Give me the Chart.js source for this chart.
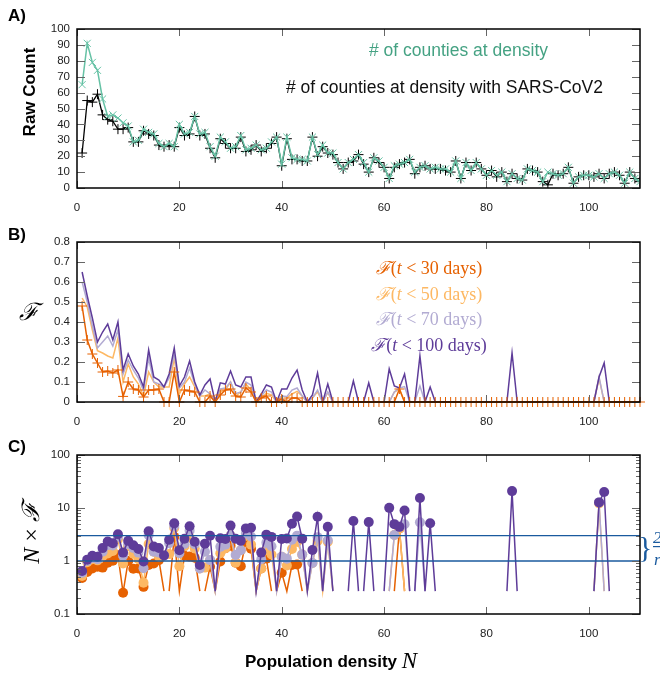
<!DOCTYPE html>
<html>
<head>
<meta charset="utf-8">
<script src="https://cdn.jsdelivr.net/npm/chart.js@4.4.1/dist/chart.umd.min.js"></script>
<style>
  body { margin: 0; background: #fff; width: 660px; height: 675px; position: relative; overflow: hidden; }
  canvas { position: absolute; left: 0; }
</style>
</head>
<body>
<canvas id="chartA" width="660" height="218" style="top:0px"></canvas>
<canvas id="chartB" width="660" height="214" style="top:218px"></canvas>
<canvas id="chartC" width="660" height="243" style="top:432px"></canvas>
<script>
// population density bins 1..110
const density = Array.from({ length: 110 }, (_, i) => i + 1);

// panel A: raw counts
const counties = [
  65, 91, 79, 74, 56, 45, 46, 44, 41, 39,
  29, 30, 37, 35, 34, 28, 26, 28, 26, 40,
  34, 35, 45, 34, 35, 26, 20, 32, 29, 25,
  26, 33, 24, 25, 27, 24, 25, 29, 32, 15,
  32, 19, 18, 18, 17, 32, 21, 27, 22, 22,
  16, 12, 16, 18, 21, 16, 10, 19, 17, 13,
  6, 14, 15, 16, 18, 10, 13, 14, 12, 13,
  12, 12, 10, 17, 6, 16, 11, 16, 12, 8,
  11, 8, 10, 4, 9, 6, 5, 12, 11, 10,
  4, 10, 9, 8, 9, 13, 3, 7, 8, 8,
  7, 9, 6, 9, 10, 8, 3, 10, 6, 4
];
const withCovid = [
  22, 55, 54, 59, 46, 43, 42, 37, 37, 38,
  29, 29, 36, 34, 33, 27, 26, 27, 26, 38,
  33, 34, 45, 33, 34, 25, 19, 31, 28, 25,
  25, 32, 23, 24, 27, 23, 25, 28, 32, 14,
  31, 18, 18, 17, 17, 32, 20, 26, 22, 21,
  16, 12, 16, 17, 21, 15, 10, 19, 16, 13,
  6, 13, 15, 16, 18, 9, 13, 14, 12, 12,
  12, 11, 10, 17, 6, 16, 11, 16, 12, 8,
  11, 7, 10, 4, 9, 6, 5, 12, 11, 10,
  4, 2, 9, 8, 9, 13, 3, 7, 8, 8,
  7, 9, 6, 9, 10, 8, 3, 10, 6, 4
];

// panel B: fraction F(t < T days)
const f30 = [
  .48, .31, .24, .195, .15, .155, .145, .16, .028, .10,
  .065, .06, .025, .06, .06, .065, 0, 0, .15, 0,
  .06, .055, .05, 0, 0, .03, 0, .035, .06, .065,
  .03, .025, .07, .05, 0, .02, .03, 0, 0, .015,
  0, .02, .02, 0, 0, 0, 0, 0, 0, 0,
  0, 0, 0, 0, 0, 0, 0, 0, 0, 0,
  0, 0, .065, 0, 0, 0, 0, 0, 0, 0,
  0, 0, 0, 0, 0, 0, 0, 0, 0, 0,
  0, 0, 0, 0, 0, 0, 0, 0, 0, 0,
  0, 0, 0, 0, 0, 0, 0, 0, 0, 0,
  0, 0, 0, 0, 0, 0, 0, 0, 0, 0
];
const f50 = [
  .52, .475, .36, .257, .245, .23, .22, .32, .10, .19,
  .125, .09, .03, .15, .10, .075, .075, .075, .22, .04,
  .09, .125, .075, .03, .03, .04, 0, .05, .06, .10,
  .03, .05, .09, .06, 0, .02, .043, .035, 0, .03,
  .02, .04, .053, .03, 0, .02, .051, 0, .047, 0,
  0, 0, 0, 0, 0, 0, 0, 0, 0, 0,
  0, .05, .065, 0, 0, 0, 0, 0, 0, 0,
  0, 0, 0, 0, 0, 0, 0, 0, 0, 0,
  0, 0, 0, 0, 0, 0, 0, 0, 0, 0,
  0, 0, 0, 0, 0, 0, 0, 0, 0, 0,
  0, .12, 0, 0, 0, 0, 0, 0, 0, 0
];
const f70 = [
  .60, .50, .38, .27, .30, .33, .28, .36, .14, .21,
  .16, .12, .056, .22, .10, .09, .075, .12, .24, .07,
  .10, .17, .09, .03, .06, .04, 0, .066, .07, .10,
  .042, .05, .10, .085, 0, .03, .06, .05, 0, .03,
  .027, .06, .07, .03, 0, .02, .06, 0, .05, 0,
  0, 0, 0, 0, 0, 0, 0, 0, 0, 0,
  0, .05, .07, .077, 0, 0, .08, 0, 0, 0,
  0, 0, 0, 0, 0, 0, 0, 0, 0, 0,
  0, 0, 0, 0, 0, 0, 0, 0, 0, 0,
  0, 0, 0, 0, 0, 0, 0, 0, 0, 0,
  0, .125, 0, 0, 0, 0, 0, 0, 0, 0
];
const f100 = [
  .65, .53, .42, .30, .35, .39, .31, .40, .16, .24,
  .18, .14, .075, .26, .125, .11, .075, .14, .27, .08,
  .125, .205, .10, .035, .085, .115, 0, .096, .09, .155,
  .085, .075, .125, .125, 0, .04, .085, .075, 0, .065,
  .065, .12, .16, .06, 0, .035, .145, 0, .09, 0,
  0, 0, 0, .105, 0, 0, .095, 0, 0, 0,
  .165, .08, .07, .14, 0, 0, .23, 0, .075, 0,
  0, 0, 0, 0, 0, 0, 0, 0, 0, 0,
  0, 0, 0, 0, .245, 0, 0, 0, 0, 0,
  0, 0, 0, 0, 0, 0, 0, 0, 0, 0,
  0, .125, .195, 0, 0, 0, 0, 0, 0, 0
];

// tick labels
const xTicks = [0, 20, 40, 60, 80, 100];
const yTicksA = [0, 10, 20, 30, 40, 50, 60, 70, 80, 90, 100];
const yTicksB = [0, 0.1, 0.2, 0.3, 0.4, 0.5, 0.6, 0.7, 0.8];
const yTicksC = [0.1, 1, 10, 100];
const yMinorC = [0.2, 0.3, 0.4, 0.5, 0.6, 0.7, 0.8, 0.9, 2, 3, 4, 5, 6, 7, 8, 9, 20, 30, 40, 50, 60, 70, 80, 90];
const refLines = [1, 3];

const SANS = '"Liberation Sans", Arial, sans-serif';
const SERIF = '"Liberation Serif", "DejaVu Serif", serif';
const TEAL = '#66c2a5', ORANGE = '#e66101', LORANGE = '#fdb863', LPURPLE = '#b2abd2', PURPLE = '#5e3c99', BLUE = '#1a5a9e';

const pts = arr => density.map((n, i) => ({ x: n, y: arr[i] }));

// N x F; empty bins sit at the floor without a dot
const floorC = 0.27;
const nf = f => density.map((n, i) => ({ x: n, y: f[i] > 0 ? n * f[i] : floorC }));

// inward ticks + box like gnuplot
const frame = {
  id: 'frame',
  afterDraw(chart, args, o) {
    const { ctx, chartArea: a, scales: { x, y } } = chart;
    ctx.save();
    ctx.strokeStyle = '#666';
    ctx.lineWidth = 1;
    ctx.beginPath();
    xTicks.forEach(v => {
      const px = Math.round(x.getPixelForValue(v)) + 0.5;
      ctx.moveTo(px, a.bottom); ctx.lineTo(px, a.bottom - 7);
      ctx.moveTo(px, a.top); ctx.lineTo(px, a.top + 7);
    });
    o.yMajor.forEach(v => {
      const py = Math.round(y.getPixelForValue(v)) + 0.5;
      ctx.moveTo(a.left, py); ctx.lineTo(a.left + 8, py);
      ctx.moveTo(a.right, py); ctx.lineTo(a.right - 8, py);
    });
    (o.yMinor || []).forEach(v => {
      const py = Math.round(y.getPixelForValue(v)) + 0.5;
      ctx.moveTo(a.left, py); ctx.lineTo(a.left + 4, py);
      ctx.moveTo(a.right, py); ctx.lineTo(a.right - 4, py);
    });
    ctx.stroke();
    ctx.strokeStyle = '#000';
    ctx.lineWidth = 1.5;
    ctx.strokeRect(a.left, a.top, a.width, a.height);
    ctx.restore();
  }
};

// horizontal reference lines in panel C
const hlines = {
  id: 'hlines',
  afterDatasetsDraw(chart, args, o) {
    if (!o.values) return;
    const { ctx, chartArea: a, scales: { y } } = chart;
    ctx.save();
    ctx.strokeStyle = BLUE;
    ctx.lineWidth = 1.3;
    o.values.forEach(v => {
      const py = y.getPixelForValue(v);
      ctx.beginPath(); ctx.moveTo(a.left, py); ctx.lineTo(a.right, py); ctx.stroke();
    });
    ctx.restore();
  }
};

// free text, runs of mixed fonts
const texts = {
  id: 'texts',
  afterDraw(chart, args, o) {
    const ctx = chart.ctx;
    (o.items || []).forEach(it => {
      ctx.save();
      ctx.translate(it.x, it.y);
      if (it.rot) ctx.rotate(it.rot);
      ctx.textBaseline = 'middle';
      ctx.textAlign = 'left';
      const runs = it.runs || [{ t: it.t, f: it.f }];
      let w = 0;
      runs.forEach(r => { ctx.font = r.f; w += ctx.measureText(r.t).width; });
      let x0 = it.align === 'right' ? -w : it.align === 'center' ? -w / 2 : 0;
      ctx.fillStyle = it.c || '#000';
      runs.forEach(r => { ctx.font = r.f; ctx.fillText(r.t, x0, r.dy || 0); x0 += ctx.measureText(r.t).width; });
      if (it.bar) { ctx.fillRect(it.bar[0], it.bar[1], it.bar[2], 1.2); }
      ctx.restore();
    });
  }
};

Chart.register(frame, hlines, texts);

function xScale(h) {
  return {
    type: 'linear', min: 0, max: 110,
    afterBuildTicks: s => { s.ticks = xTicks.map(v => ({ value: v })); },
    ticks: { padding: 13, color: '#222', font: { family: SANS, size: 11.5 }, maxRotation: 0, autoSkip: false },
    grid: { display: false, drawTicks: false },
    border: { display: false },
    afterFit: s => { s.height = h; }
  };
}
function yScale(opts, vals, fmt) {
  return Object.assign({
    afterBuildTicks: s => { s.ticks = vals.map(v => ({ value: v })); },
    ticks: { padding: 7, color: '#222', font: { family: SANS, size: 11.5 }, autoSkip: false, callback: fmt || (v => String(v)) },
    grid: { display: false, drawTicks: false },
    border: { display: false },
    afterFit: s => { s.width = 77; }
  }, opts);
}
const base = (top, extra) => Object.assign({
  responsive: false, animation: false,
  layout: { padding: { top: top, right: 20, left: 0, bottom: 0 } },
  elements: { line: { tension: 0 } }
}, extra);

// ---- A
new Chart(document.getElementById('chartA'), {
  type: 'line',
  data: {
    datasets: [
      { data: pts(counties), borderColor: TEAL, borderWidth: 1.5, pointStyle: 'crossRot', pointRadius: 5, pointBorderColor: TEAL, pointBorderWidth: 1, order: 0 },
      { data: pts(withCovid), borderColor: '#000', borderWidth: 1.3, pointStyle: 'cross', pointRadius: 5, pointBorderColor: '#000', pointBorderWidth: 1, order: 1 }
    ]
  },
  options: base(29, {
    scales: { x: xScale(30), y: yScale({ min: 0, max: 100 }, yTicksA) },
    plugins: {
      legend: { display: false }, tooltip: { enabled: false },
      frame: { yMajor: yTicksA },
      texts: { items: [
        { t: 'A)', f: 'bold 17px ' + SANS, x: 8, y: 16 },
        { t: 'Raw Count', f: 'bold 17px ' + SANS, x: 30, y: 92, rot: -Math.PI / 2, align: 'center' },
        { t: '# of counties at density', f: '17.5px ' + SANS, x: 548, y: 51, align: 'right', c: '#45a283' },
        { t: '# of counties at density with SARS-CoV2', f: '17.5px ' + SANS, x: 603, y: 88, align: 'right', c: '#111' }
      ] }
    }
  })
});

// ---- B
const legB = (label, c, y) => ({
  x: 429, y: y, align: 'center', c: c,
  runs: [
    { t: '\u2131', f: 'italic 18px ' + SERIF },
    { t: '(', f: '18px ' + SERIF },
    { t: 't', f: 'italic 18px ' + SERIF },
    { t: ' < ' + label + ' days)', f: '18px ' + SERIF }
  ]
});
new Chart(document.getElementById('chartB'), {
  type: 'line',
  data: {
    datasets: [
      { data: pts(f30), borderColor: ORANGE, borderWidth: 1.5, pointStyle: 'cross', pointRadius: 5, pointBorderColor: ORANGE, pointBorderWidth: 1, order: 0, clip: false },
      { data: pts(f50), borderColor: LORANGE, borderWidth: 1.5, pointRadius: 0, order: 3 },
      { data: pts(f70), borderColor: LPURPLE, borderWidth: 1.5, pointRadius: 0, order: 2 },
      { data: pts(f100), borderColor: PURPLE, borderWidth: 1.5, pointRadius: 0, order: 1 }
    ]
  },
  options: base(24, {
    scales: { x: xScale(30), y: yScale({ min: 0, max: 0.8 }, yTicksB) },
    plugins: {
      legend: { display: false }, tooltip: { enabled: false },
      frame: { yMajor: yTicksB },
      texts: { items: [
        { t: 'B)', f: 'bold 17px ' + SANS, x: 8, y: 17 },
        { t: '\u2131', f: 'italic 24px ' + SERIF, x: 29, y: 96, align: 'center' },
        legB('30', ORANGE, 51),
        legB('50', LORANGE, 77),
        legB('70', LPURPLE, 102),
        legB('100', PURPLE, 128)
      ] }
    }
  })
});

// ---- C
const cSet = (f, c, ord) => ({
  data: nf(f), borderColor: c, backgroundColor: c, borderWidth: 1.5,
  pointRadius: ctx => (f[ctx.dataIndex] > 0 ? 5 : 0),
  pointBackgroundColor: c, pointBorderColor: c, pointBorderWidth: 0, order: ord,
  segment: { borderColor: s => (f[s.p0DataIndex] > 0 || f[s.p1DataIndex] > 0 ? undefined : 'rgba(0,0,0,0)') }
});
new Chart(document.getElementById('chartC'), {
  type: 'line',
  data: {
    datasets: [
      cSet(f30, ORANGE, 3),
      cSet(f50, LORANGE, 2),
      cSet(f70, LPURPLE, 1),
      cSet(f100, PURPLE, 0)
    ]
  },
  options: base(23, {
    scales: { x: xScale(61), y: yScale({ type: 'logarithmic', min: 0.1, max: 100 }, yTicksC) },
    plugins: {
      legend: { display: false }, tooltip: { enabled: false },
      frame: { yMajor: yTicksC, yMinor: yMinorC },
      hlines: { values: refLines },
      texts: { items: [
        { t: 'C)', f: 'bold 17px ' + SANS, x: 8, y: 15 },
        { x: 33, y: 101, rot: -Math.PI / 2, align: 'center', runs: [
          { t: 'N', f: 'italic 24px ' + SERIF },
          { t: ' \u00d7 ', f: '24px ' + SERIF },
          { t: '\u2131', f: 'italic 24px ' + SERIF }
        ] },
        { x: 331, y: 230, align: 'center', runs: [
          { t: 'Population density ', f: 'bold 17px ' + SANS },
          { t: 'N', f: 'italic 23px ' + SERIF }
        ] },
        { t: '}', f: '30px ' + SERIF, x: 638, y: 117, c: BLUE },
        { t: '2\u03c0', f: 'italic 17px ' + SERIF, x: 653, y: 107, c: BLUE, bar: [0, 7, 20] },
        { t: 'r', f: 'italic 17px ' + SERIF, x: 654, y: 129, c: BLUE }
      ] }
    }
  })
});
</script>
</body>
</html>
